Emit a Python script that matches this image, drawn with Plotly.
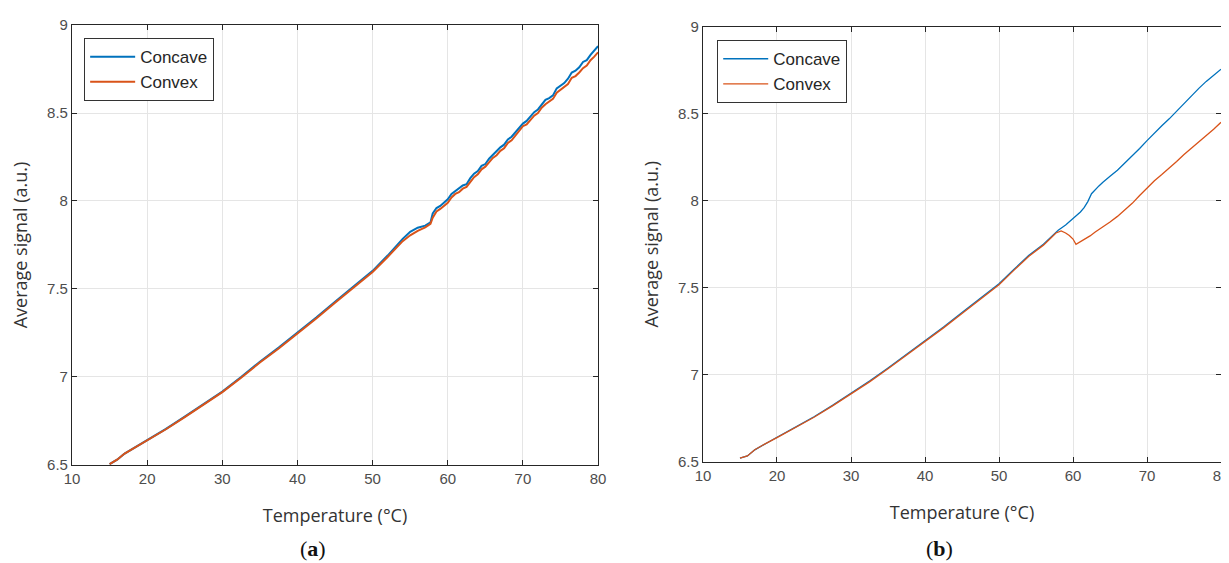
import plotly.graph_objects as go

# ---------- Panel (a) ----------
temp_a = [15, 16, 17, 18, 20, 22.5, 25, 27.5, 30, 32.5, 35, 37.5, 40, 42.5, 45, 47.5,
          50, 52, 54, 55, 56, 57, 57.7, 58, 58.5, 59, 59.5, 60, 60.5, 61, 61.5, 62, 62.5,
          63, 63.5, 64, 64.5, 65, 65.5, 66, 66.5, 67, 67.5, 68, 68.5, 69, 69.5, 70, 70.5,
          71, 71.5, 72, 72.5, 73, 73.5, 74, 74.5, 75, 75.5, 76, 76.5, 77, 77.5, 78, 78.5,
          79, 79.5, 80]
concave_a = [6.505, 6.53, 6.565, 6.59, 6.638, 6.705, 6.775, 6.845, 6.917, 7.0, 7.087, 7.167,
             7.25, 7.338, 7.428, 7.515, 7.603, 7.69, 7.785, 7.825, 7.848, 7.86, 7.878, 7.93,
             7.96, 7.972, 7.99, 8.01, 8.04, 8.055, 8.07, 8.088, 8.095, 8.13, 8.155, 8.17,
             8.2, 8.21, 8.24, 8.262, 8.28, 8.305, 8.32, 8.35, 8.365, 8.39, 8.415, 8.44,
             8.455, 8.48, 8.505, 8.52, 8.55, 8.575, 8.585, 8.6, 8.64, 8.655, 8.67, 8.695,
             8.73, 8.74, 8.76, 8.79, 8.8, 8.83, 8.855, 8.88]
convex_a = [6.505, 6.53, 6.565, 6.59, 6.636, 6.703, 6.772, 6.842, 6.914, 6.996, 7.082, 7.162,
            7.245, 7.332, 7.422, 7.509, 7.597, 7.682, 7.772, 7.805, 7.83, 7.85, 7.87, 7.905,
            7.94, 7.955, 7.972, 7.99, 8.02, 8.04, 8.05, 8.07, 8.08, 8.11, 8.135, 8.152,
            8.18, 8.195, 8.22, 8.245, 8.26, 8.285, 8.3, 8.33, 8.345, 8.37, 8.395, 8.425,
            8.435, 8.46, 8.485, 8.5, 8.53, 8.55, 8.565, 8.58, 8.615, 8.63, 8.645, 8.665,
            8.7, 8.71, 8.73, 8.755, 8.77, 8.8, 8.82, 8.845]

# ---------- Panel (b) ----------
temp_b_concave = [15, 16, 17, 18, 20, 22.5, 25, 27.5, 30, 32.5, 35, 37.5, 40, 42.5, 45, 47.5,
                  50, 52, 54, 56, 57, 58, 59, 60, 61, 61.5, 62, 62.5, 63, 63.5, 64, 64.5, 65,
                  66, 67, 68, 69, 70, 71, 72, 73, 74, 75, 76, 77, 78, 79, 80]
concave_b = [6.522, 6.535, 6.57, 6.595, 6.642, 6.7, 6.76, 6.825, 6.894, 6.965, 7.04, 7.117,
             7.195, 7.275, 7.358, 7.44, 7.523, 7.605, 7.685, 7.75, 7.79, 7.83, 7.86, 7.895,
             7.935, 7.96, 7.995, 8.04, 8.065, 8.085, 8.105, 8.125, 8.14, 8.175, 8.215, 8.26,
             8.3, 8.345, 8.39, 8.43, 8.47, 8.515, 8.555, 8.6, 8.645, 8.685, 8.72, 8.755]
temp_b_convex = [15, 16, 17, 18, 20, 22.5, 25, 27.5, 30, 32.5, 35, 37.5, 40, 42.5, 45, 47.5,
                 50, 52, 54, 56, 57, 57.7, 58.4, 59, 59.5, 60, 60.4, 60.8, 61.5, 62.3, 63, 64,
                 65, 66, 67, 68, 69, 70, 71, 72, 73, 74, 75, 76, 77, 78, 79, 80]
convex_b = [6.522, 6.535, 6.57, 6.595, 6.64, 6.698, 6.757, 6.822, 6.89, 6.96, 7.035, 7.112,
            7.19, 7.27, 7.353, 7.435, 7.518, 7.6, 7.68, 7.745, 7.785, 7.815, 7.827, 7.815,
            7.8, 7.78, 7.75, 7.76, 7.775, 7.798, 7.82, 7.848, 7.878, 7.91, 7.945, 7.985,
            8.03, 8.075, 8.115, 8.15, 8.185, 8.225, 8.265, 8.3, 8.335, 8.37, 8.41, 8.45]

x_ticks = [10, 20, 30, 40, 50, 60, 70, 80]
y_ticks = [6.5, 7, 7.5, 8, 8.5, 9]
y_tick_labels = ["6.5", "7", "7.5", "8", "8.5", "9"]

BLUE = "#0072BD"
ORANGE = "#D95319"

fig = go.Figure()
fig.add_trace(go.Scatter(x=temp_a, y=concave_a, mode="lines", name="Concave",
                         line=dict(color=BLUE, width=2), xaxis="x", yaxis="y", legend="legend"))
fig.add_trace(go.Scatter(x=temp_a, y=convex_a, mode="lines", name="Convex",
                         line=dict(color=ORANGE, width=2), xaxis="x", yaxis="y", legend="legend"))
fig.add_trace(go.Scatter(x=temp_b_concave, y=concave_b, mode="lines", name="Concave",
                         line=dict(color=BLUE, width=1.3), xaxis="x2", yaxis="y2", legend="legend2"))
fig.add_trace(go.Scatter(x=temp_b_convex, y=convex_b, mode="lines", name="Convex",
                         line=dict(color=ORANGE, width=1.3), xaxis="x2", yaxis="y2", legend="legend2"))

tick_font = dict(family="Liberation Sans, Arial", size=15, color="#4d4d4d")
title_font = dict(family="Open Sans, Noto Sans", size=18, color="#333333")

def xaxis_cfg(domain, anchor):
    return dict(domain=domain, anchor=anchor, range=[10, 80], tickvals=x_ticks,
                ticks="inside", ticklen=5, tickcolor="#262626", mirror="ticks",
                showline=True, linecolor="#262626", linewidth=1.2,
                showgrid=True, gridcolor="#e5e5e5", gridwidth=1, zeroline=False,
                tickfont=tick_font, automargin=False,
                title=dict(text="Temperature (°C)", font=title_font, standoff=23))

def yaxis_cfg(domain, anchor):
    return dict(domain=domain, anchor=anchor, range=[6.5, 9], tickvals=y_ticks,
                ticktext=y_tick_labels,
                ticks="inside", ticklen=5, tickcolor="#262626", mirror="ticks",
                showline=True, linecolor="#262626", linewidth=1.2,
                showgrid=True, gridcolor="#e5e5e5", gridwidth=1, zeroline=False,
                tickfont=tick_font, automargin=False,
                title=dict(text="Average signal (a.u.)", font=title_font, standoff=14))

legend_style = dict(bgcolor="white", bordercolor="#333333", borderwidth=1.2,
                    font=dict(family="Liberation Sans, Arial", size=17, color="#262626"),
                    xanchor="left", yanchor="top", tracegroupgap=0,
                    itemwidth=45)

sub_y = 1 - 540 / 563

fig.update_layout(
    width=1229, height=563,
    margin=dict(l=0, r=0, t=0, b=0),
    paper_bgcolor="white", plot_bgcolor="white",
    xaxis=xaxis_cfg([0.0521, 0.4801], "y"),
    yaxis=yaxis_cfg([0.1883, 0.9698], "x"),
    xaxis2=xaxis_cfg([0.5655, 0.9870], "y2"),
    yaxis2=yaxis_cfg([0.1936, 0.9671], "x2"),
    legend=dict(x=0.0618, y=0.9467, **legend_style),
    legend2=dict(x=0.5769, y=0.9432, **legend_style),
    annotations=[
        dict(text="(<b>a</b>)", x=0.248, y=sub_y, xref="paper", yref="paper",
             xanchor="center", yanchor="middle",
             showarrow=False, font=dict(family="Liberation Serif", size=22, color="#111111")),
        dict(text="(<b>b</b>)", x=0.7583, y=sub_y, xref="paper", yref="paper",
             xanchor="center", yanchor="middle",
             showarrow=False, font=dict(family="Liberation Serif", size=22, color="#111111")),
    ],
    showlegend=True,
)

fig.write_html("out.html")
